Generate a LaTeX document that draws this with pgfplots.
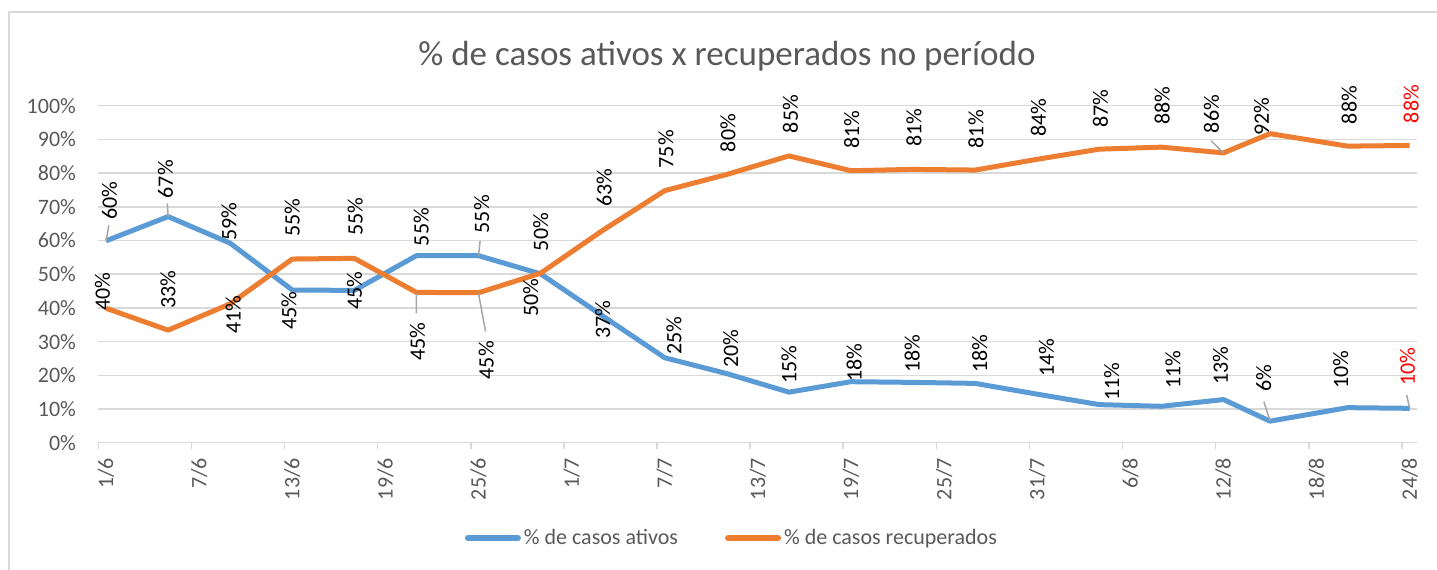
\documentclass[border=0pt]{standalone}
\usepackage{fontspec}
\setmainfont{Carlito}
\usepackage{pgfplots}
\usepackage{pgfplotstable}
\pgfplotsset{compat=1.18}
\definecolor{cblue}{HTML}{5B9BD5}
\definecolor{corange}{HTML}{ED7D31}
\definecolor{cgrid}{HTML}{D9D9D9}
\definecolor{ctext}{HTML}{595959}
\definecolor{cleader}{HTML}{A6A6A6}

\pgfplotstableread{
x y
0.5 59.9
4.5 67.1
8.5 59.2
12.5 45.3
16.5 45.2
20.5 55.5
24.5 55.5
28.5 50.1
32.5 37.6
36.5 25.2
40.5 20.5
44.5 15.0
48.5 18.1
52.5 17.9
56.5 17.6
60.5 14.4
64.5 11.3
68.5 10.8
72.5 12.8
75.5 6.4
80.5 10.4
84.5 10.2
}\ativos

\pgfplotstableread{
x y
0.5 39.9
4.5 33.4
8.5 41.2
12.5 54.5
16.5 54.7
20.5 44.6
24.5 44.5
28.5 50.3
32.5 63.0
36.5 74.8
40.5 79.6
44.5 85.1
48.5 80.7
52.5 81.1
56.5 80.9
60.5 84.1
64.5 87.1
68.5 87.7
72.5 86.0
75.5 91.7
80.5 88.0
84.5 88.2
}\recup

\pgfplotstableread{
x y t
0.72 71.8 60
4.33 78.2 67
8.42 65.6 59
12.29 39.1 45
16.5 45.1 45
20.8 64.0 55
24.7 67.8 55
27.87 43.1 50
32.5 36.5 37
37.1 31.7 25
40.75 28.0 20
44.5 23.1 15
48.7 23.8 18
52.45 26.5 18
56.8 26.5 18
61.1 25.3 14
65.3 18.1 11
69.25 21.6 11
72.3 22.8 13
75.1 19.1 6
80.05 21.6 10
}\ativoslab

\pgfplotstableread{
x y t
0.27 44.8 40
4.49 45.5 33
8.69 38.1 41
12.5 66.8 55
16.55 67.1 55
20.57 30.0 45
25.0 24.5 45
28.5 62.5 50
32.6 75.7 63
36.57 87.1 75
40.57 91.9 80
44.6 97.5 85
48.55 92.8 81
52.55 93.4 81
56.55 93.0 81
60.57 96.4 84
64.57 99.2 87
68.55 100.0 88
71.73 97.5 86
74.95 96.7 92
80.6 100.2 88
}\recuplab

\pgfplotstableread{
x y t
84.36 22.6 10
84.6 100.5 88
}\redlab

\pgfplotstableread{
x y
0.5 59.9
0.68 64.5
nan nan
4.5 67.1
4.45 71.0
nan nan
24.5 55.5
24.6 59.8
nan nan
20.5 44.3
20.5 38.4
nan nan
24.5 44.3
24.95 33.0
nan nan
72.5 86.0
71.7 89.6
nan nan
75.5 6.5
75.1 12.2
nan nan
84.5 10.2
84.3 14.2
}\leaders

\begin{document}
\begin{tikzpicture}[font=\fontsize{11}{13}\selectfont]
\path[use as bounding box] (-49.15pt,-63.15pt) rectangle (669.35pt,221.35pt);
\draw[cgrid, line width=1pt] (-44.65pt,-90pt) -- (-44.65pt,215.35pt) -- (720pt,215.35pt);
\begin{axis}[
  scale only axis, width=659.6pt, height=168.5pt,
  xmin=0, xmax=85, ymin=0, ymax=100,
  clip=false,
  axis x line*=bottom, axis y line*=left,
  x axis line style={cgrid, line width=0.75pt, -},
  y axis line style={draw=none},
  ymajorgrids, grid style={cgrid, line width=0.75pt},
  ytick={0,10,...,100},
  yticklabel={\pgfmathprintnumber{\tick}\%},
  xtick={0.5,6.5,...,84.5},
  xticklabels={1/6,7/6,13/6,19/6,25/6,1/7,7/7,13/7,19/7,25/7,31/7,6/8,12/8,18/8,24/8},
  extra x ticks={0,6,...,84}, extra x tick labels={},
  extra x tick style={xtick style={draw=cgrid, line width=0.75pt}},
  major tick length=3pt,
  xtick style={draw=none}, ytick style={draw=none},
  tick align=outside,
  tick label style={font=\fontsize{11}{13}\selectfont, text=ctext},
  xticklabel style={rotate=90, anchor=east, inner sep=0pt},
  xticklabel shift=4.5pt,
  yticklabel style={anchor=east, inner sep=0pt},
  yticklabel shift=8pt,
  /pgf/number format/assume math mode=true,
  legend columns=2,
  legend style={at={(axis description cs:0.4807,-0.2828)}, anchor=center, draw=none, fill=none,
    font=\fontsize{11}{13}\selectfont, text=ctext,
    nodes={inner xsep=1.5pt},
    /tikz/every even column/.append style={column sep=22pt}},
  legend image code/.code={\draw[#1, line width=3pt, line cap=round] (0pt,0pt) -- (25pt,0pt);},
]
\addplot[cblue, line width=2.5pt, line join=round] table {\ativos};
\addplot[corange, line width=2.5pt, line join=round] table {\recup};
\legend{\% de casos ativos, \% de casos recuperados}
\addplot[forget plot, cleader, line width=0.75pt, unbounded coords=jump] table {\leaders};
\addplot[forget plot, only marks, mark=*, mark size=0pt, mark options={draw=none, fill=none},
  point meta=explicit symbolic, nodes near coords={\pgfplotspointmeta\%},
  nodes near coords align=center,
  every node near coord/.append style={rotate=90, anchor=center, inner sep=0pt, text=black, font=\fontsize{11}{13}\selectfont}]
  table[meta=t] {\ativoslab};
\addplot[forget plot, only marks, mark=*, mark size=0pt, mark options={draw=none, fill=none},
  point meta=explicit symbolic, nodes near coords={\pgfplotspointmeta\%},
  nodes near coords align=center,
  every node near coord/.append style={rotate=90, anchor=center, inner sep=0pt, text=black, font=\fontsize{11}{13}\selectfont}]
  table[meta=t] {\recuplab};
\addplot[forget plot, only marks, mark=*, mark size=0pt, mark options={draw=none, fill=none},
  point meta=explicit symbolic, nodes near coords={\pgfplotspointmeta\%},
  nodes near coords align=center,
  every node near coord/.append style={rotate=90, anchor=center, inner sep=0pt, text=red, font=\fontsize{11}{13}\selectfont}]
  table[meta=t] {\redlab};
\end{axis}
\node[anchor=base, font=\fontsize{17.5}{20}\selectfont, text=ctext] at (314.35pt,188.85pt) {\% de casos ativos x recuperados no período};
\end{tikzpicture}
\end{document}
